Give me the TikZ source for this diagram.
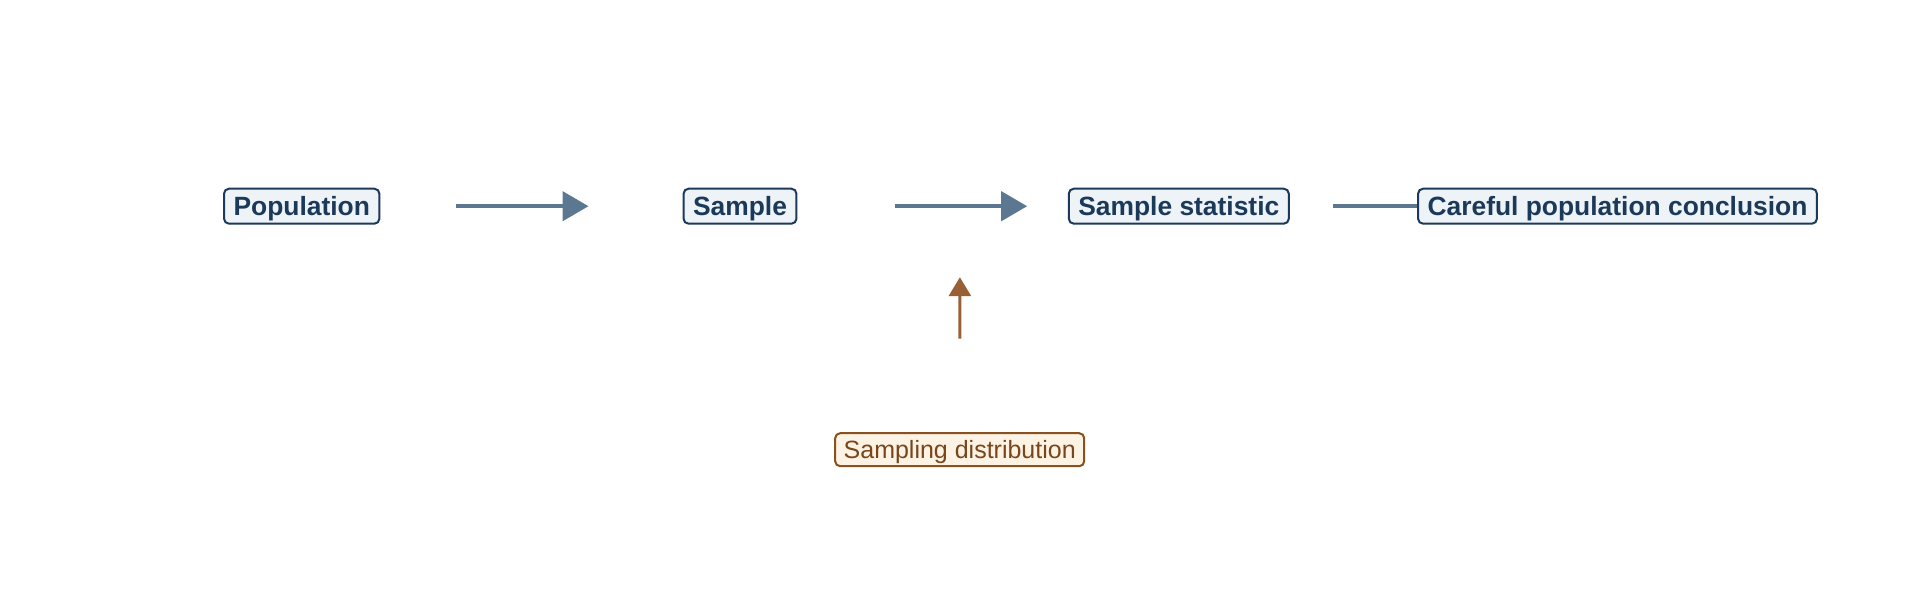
\documentclass[tikz,border=0pt]{standalone}
\usepackage{fontspec}
\setmainfont{Liberation Sans}
\usetikzlibrary{arrows.meta}
\definecolor{navy}{HTML}{1B3A5A}
\definecolor{navyfill}{HTML}{EEF3F8}
\definecolor{slate}{HTML}{5B7890}
\definecolor{brown}{HTML}{7A4519}
\definecolor{brownline}{HTML}{8A5020}
\definecolor{brownfill}{HTML}{FDF3E5}
\definecolor{brownarrow}{HTML}{9A6035}
\tikzset{
  mainbox/.style={draw=navy, fill=navyfill, text=navy, line width=2pt, rounded corners=5pt,
    font=\fontsize{26.4}{30}\selectfont\bfseries, inner xsep=9.5pt, inner ysep=3pt,
    text height=23.5pt, text depth=5.5pt},
  sidebox/.style={draw=brownline, fill=brownfill, text=brown, line width=2pt, rounded corners=5pt,
    font=\fontsize{25}{29}\selectfont, inner xsep=8.5pt, inner ysep=3pt,
    text height=22pt, text depth=5pt},
  flow/.style={draw=slate, line width=4.5pt, -{Triangle[length=26pt,width=29pt]}},
  plainflow/.style={draw=slate, line width=4.5pt},
  sideflow/.style={draw=brownarrow, line width=3pt, -{Triangle[length=19pt,width=22pt]}},
}
\begin{document}
\begin{tikzpicture}[x=1pt,y=-1pt]
\useasboundingbox (0,0) rectangle (1920,614);
\node[mainbox] (pop) at (301.7,206.2) {Population};
\node[mainbox] (smp) at (740,206.2) {Sample};
\node[mainbox] (stat) at (1178.8,206.2) {Sample statistic};
\node[mainbox] (conc) at (1617.5,206.2) {Careful population conclusion};
\node[sidebox] (dist) at (959.7,449.7) {Sampling distribution};
\coordinate (hit) at (960,206.2);
\draw[flow, shorten <=75.7pt, shorten >=94pt] (pop.east) -- (smp.west);
\draw[flow, shorten <=97.6pt, shorten >=40.6pt] (smp.east) -- (stat.west);
\draw[plainflow, shorten <=43.4pt] (stat.east) -- (conc.west);
\draw[sideflow, shorten <=93.7pt, shorten >=71pt] (dist.north) -- (hit);
\end{tikzpicture}
\end{document}
